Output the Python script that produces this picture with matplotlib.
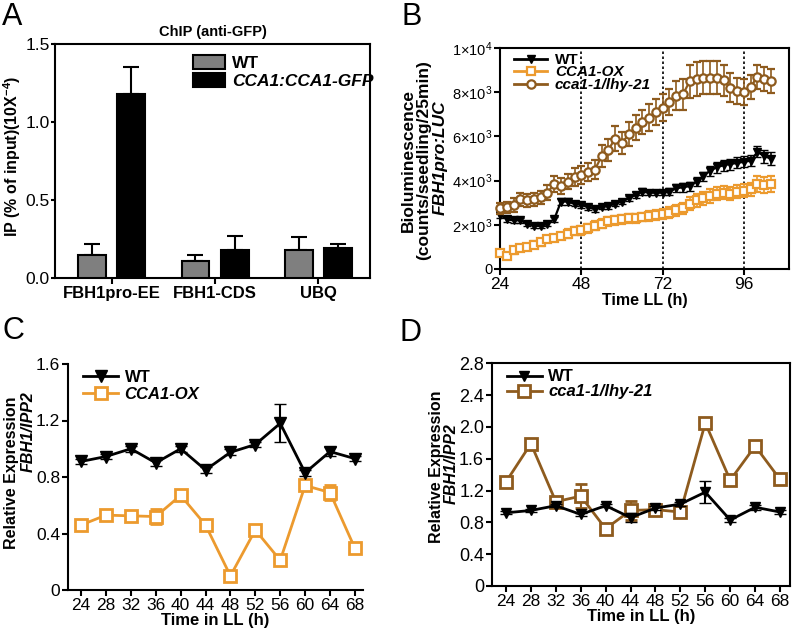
import matplotlib
matplotlib.use("Agg")
import matplotlib.pyplot as plt
import numpy as np
from matplotlib.patches import Patch
from matplotlib.lines import Line2D

plt.rcParams['font.family'] = ['Liberation Sans', 'DejaVu Sans']
plt.rcParams['mathtext.default'] = 'regular'

# ---------------- Panel A data ----------------
chip_targets = ['FBH1pro-EE', 'FBH1-CDS', 'UBQ']
chip_wt = [0.15, 0.11, 0.18]
chip_wt_err = [0.065, 0.035, 0.08]
chip_gfp = [1.18, 0.18, 0.19]
chip_gfp_err = [0.17, 0.09, 0.03]

# ---------------- Panel B data ----------------
lum_time = list(range(24, 105, 2))
lum_wt = [2.45, 2.25, 2.2, 2.2, 2.05, 1.95, 1.95, 2.05, 2.25, 3.05,
          3.05, 2.95, 2.9, 2.8, 2.7, 2.8, 2.85, 2.95, 3.05, 3.2,
          3.35, 3.5, 3.45, 3.45, 3.45, 3.5, 3.65, 3.7, 3.75, 3.95,
          4.2, 4.45, 4.6, 4.7, 4.75, 4.8, 4.85, 4.9, 5.3, 5.1,
          5.0]
lum_wt_err = [0.15, 0.12, 0.12, 0.12, 0.1, 0.1, 0.1, 0.1, 0.12, 0.15,
              0.15, 0.12, 0.12, 0.12, 0.1, 0.1, 0.12, 0.12, 0.12, 0.12,
              0.12, 0.15, 0.12, 0.12, 0.12, 0.15, 0.18, 0.2, 0.2, 0.2,
              0.2, 0.22, 0.25, 0.25, 0.25, 0.25, 0.25, 0.25, 0.25, 0.3,
              0.3]
lum_ox = [0.72, 0.58, 0.85, 0.95, 1.0, 1.1, 1.2, 1.35, 1.4, 1.5,
          1.6, 1.72, 1.75, 1.85, 1.95, 2.05, 2.15, 2.2, 2.25, 2.3,
          2.3, 2.35, 2.4, 2.45, 2.5, 2.55, 2.65, 2.75, 2.95, 3.1,
          3.2, 3.3, 3.4, 3.45, 3.4, 3.5, 3.55, 3.6, 3.85, 3.8,
          3.85]
lum_ox_err = [0.15, 0.15, 0.15, 0.15, 0.15, 0.15, 0.15, 0.15, 0.15, 0.15,
              0.2, 0.2, 0.2, 0.2, 0.2, 0.2, 0.2, 0.2, 0.2, 0.2,
              0.2, 0.2, 0.22, 0.22, 0.22, 0.25, 0.25, 0.25, 0.3, 0.3,
              0.3, 0.3, 0.3, 0.3, 0.3, 0.3, 0.3, 0.3, 0.35, 0.35,
              0.35]
lum_cca = [2.75, 2.8, 2.9, 3.15, 3.1, 3.15, 3.25, 3.45, 3.85, 3.75,
           3.95, 4.15, 4.25, 4.4, 4.5, 5.1, 5.4, 5.9, 5.7, 6.1,
           6.4, 6.65, 6.85, 7.1, 7.3, 7.55, 7.85, 7.9, 8.5, 8.6,
           8.65, 8.65, 8.65, 8.55, 8.2, 8.05, 8.0, 8.25, 8.7, 8.6,
           8.5]
lum_cca_err = [0.25, 0.25, 0.3, 0.3, 0.3, 0.3, 0.3, 0.35, 0.35, 0.35, 0.35, 0.4,
               0.4, 0.4, 0.45, 0.5, 0.5, 0.55, 0.5, 0.55, 0.55, 0.55, 0.6, 0.6,
               0.6, 0.6, 0.65, 0.7, 0.75, 0.75, 0.75, 0.75, 0.75, 0.7, 0.65, 0.6,
               0.6, 0.55, 0.55, 0.55, 0.55]

# ---------------- Panel C / D data ----------------
qpcr_time = [24, 28, 32, 36, 40, 44, 48, 52, 56, 60, 64, 68]
c_wt = [0.91, 0.945, 1.0, 0.9, 1.0, 0.85, 0.975, 1.03, 1.18, 0.83, 0.98, 0.93]
c_wt_err = [0.02, 0.02, 0.02, 0.02, 0.02, 0.02, 0.02, 0.02, 0.135, 0.02, 0.03, 0.02]
c_ox = [0.46, 0.53, 0.525, 0.52, 0.67, 0.46, 0.10, 0.425, 0.21, 0.74, 0.69, 0.295]
c_ox_err = [0.02, 0.02, 0.02, 0.05, 0.03, 0.02, 0.02, 0.02, 0.02, 0.02, 0.05, 0.02]
d_wt = [0.92, 0.95, 1.01, 0.9, 1.01, 0.86, 0.98, 1.03, 1.18, 0.83, 0.99, 0.93]
d_wt_err = [0.02, 0.02, 0.02, 0.02, 0.02, 0.06, 0.02, 0.02, 0.135, 0.02, 0.03, 0.02]
d_cca = [1.31, 1.79, 1.06, 1.13, 0.72, 0.95, 0.96, 0.93, 2.05, 1.33, 1.76, 1.34]
d_cca_err = [0.03, 0.03, 0.03, 0.15, 0.04, 0.12, 0.03, 0.03, 0.06, 0.03, 0.04, 0.03]

ORANGE = '#EC9A2E'
BROWN = '#8E5B1E'
GREY = '#7F7F7F'

W, H = 796, 633
fig = plt.figure(figsize=(W / 100, H / 100), dpi=100)


def ax_px(l, r, t, b):
    return fig.add_axes([l / W, 1 - b / H, (r - l) / W, (b - t) / H])


def style(ax, box=True):
    for s in ax.spines.values():
        s.set_linewidth(1.5)
    if not box:
        ax.spines['top'].set_visible(False)
        ax.spines['right'].set_visible(False)
    ax.tick_params(direction='out', width=1.5, length=4, pad=1.5)


def vtext(x, y, s, size, italic=False, va='center'):
    fig.text(x / W, 1 - y / H, s, rotation=90, ha='center', va=va, fontsize=size,
             fontweight='bold', fontstyle='italic' if italic else 'normal')


# ================= Panel A =================
axA = ax_px(55, 370, 44, 278)
style(axA)
axA.tick_params(axis='y', length=3, pad=0.8)
xg = np.arange(len(chip_targets))
off, bw = 0.19, 0.27
axA.bar(xg - off, chip_wt, bw, color=GREY, edgecolor='black', linewidth=1.5, zorder=3)
axA.bar(xg + off, chip_gfp, bw, color='black', edgecolor='black', linewidth=1.5, zorder=3)
axA.errorbar(xg - off, chip_wt, yerr=[np.zeros(3), chip_wt_err], fmt='none',
             ecolor='black', elinewidth=1.5, capsize=6, capthick=1.5, zorder=2)
axA.errorbar(xg + off, chip_gfp, yerr=[np.zeros(3), chip_gfp_err], fmt='none',
             ecolor='black', elinewidth=1.5, capsize=6, capthick=1.5, zorder=2)
axA.set_xlim(-0.55, 2.5)
axA.set_ylim(0, 1.5)
axA.set_yticks([0, 0.5, 1.0, 1.5])
axA.set_yticklabels(['0.0', '0.5', '1.0', '1.5'], fontsize=12.5)
axA.set_xticks(xg)
axA.set_xticklabels(chip_targets, fontsize=12, fontweight='bold')
axA.set_title('ChIP (anti-GFP)', fontsize=10.5, fontweight='bold', pad=6)
vtext(12, 156, 'IP (% of input)(10X$^{-4}$)', 11.5)
legA = axA.legend(handles=[Patch(facecolor=GREY, edgecolor='black', linewidth=1.5),
                           Patch(facecolor='black', edgecolor='black', linewidth=1.5)],
                  labels=['WT', 'CCA1:CCA1-GFP'], loc='upper left',
                  bbox_to_anchor=(0.39, 1.02), frameon=False, fontsize=12.5,
                  handlelength=1.8, handleheight=0.9, handletextpad=0.4, labelspacing=0.1)
for i, t in enumerate(legA.get_texts()):
    t.set_fontweight('bold')
    if i == 1:
        t.set_fontstyle('italic')

# ================= Panel B =================
axB = ax_px(500, 789, 48, 269)
style(axB)
for xv in [48, 72, 96]:
    axB.axvline(xv, color='black', linestyle=(0, (1.5, 1.5)), linewidth=1.2, zorder=1)
tb = np.array(lum_time)
axB.errorbar(tb, np.array(lum_ox) * 1000, yerr=np.array(lum_ox_err) * 1000, color=ORANGE,
             marker='s', markersize=6, markerfacecolor='white', markeredgecolor=ORANGE,
             markeredgewidth=1.6, linewidth=1.6, capsize=3, elinewidth=1.2, zorder=3, clip_on=False)
axB.errorbar(tb, np.array(lum_wt) * 1000, yerr=np.array(lum_wt_err) * 1000, color='black',
             marker='v', markersize=6, linewidth=1.6, capsize=3, elinewidth=1.2, zorder=4, clip_on=False)
axB.errorbar(tb, np.array(lum_cca) * 1000, yerr=np.array(lum_cca_err) * 1000, color=BROWN,
             marker='o', markersize=6, markerfacecolor='white', markeredgecolor=BROWN,
             markeredgewidth=1.6, linewidth=1.6, capsize=3, elinewidth=1.2, zorder=5, clip_on=False)
axB.set_xlim(24, 109.3)
axB.set_ylim(0, 10000)
axB.set_xticks([24, 48, 72, 96])
axB.set_xticklabels(['24', '48', '72', '96'], fontsize=12.5)
axB.set_yticks([0, 2000, 4000, 6000, 8000, 10000])
axB.set_yticklabels(['0', '2×10$^{3}$', '4×10$^{3}$', '6×10$^{3}$', '8×10$^{3}$', '1×10$^{4}$'],
                    fontsize=10.5)
axB.set_xlabel('Time LL (h)', fontsize=11.5, fontweight='bold', labelpad=1)
legB = axB.legend(handles=[Line2D([], [], color='black', marker='v', markersize=6, linewidth=2),
                           Line2D([], [], color=ORANGE, marker='s', markersize=6, markerfacecolor='white',
                                  markeredgewidth=1.6, linewidth=2),
                           Line2D([], [], color=BROWN, marker='o', markersize=6, markerfacecolor='white',
                                  markeredgewidth=1.6, linewidth=2)],
                  labels=['WT', 'CCA1-OX', 'cca1-1/lhy-21'], loc='upper left',
                  bbox_to_anchor=(0.0, 1.04), frameon=False, fontsize=11,
                  handlelength=2.2, handleheight=0.6, handletextpad=0.5, labelspacing=-0.1)
for i, t in enumerate(legB.get_texts()):
    t.set_fontweight('bold')
    if i > 0:
        t.set_fontstyle('italic')
vtext(408, 160, 'Bioluminescence', 12.5)
vtext(424, 160, '(counts/seedling/25min)', 12.5)
vtext(440, 158, 'FBH1pro:LUC', 12.5, italic=True)

# ================= Panel C =================
axC = ax_px(68, 363, 364, 590)
style(axC, box=False)
tq = np.array(qpcr_time)
axC.errorbar(tq, c_wt, yerr=c_wt_err, color='black', marker='v', markersize=8, linewidth=2,
             capsize=4, elinewidth=1.5, zorder=4, clip_on=False)
axC.errorbar(tq, c_ox, yerr=c_ox_err, color=ORANGE, marker='s', markersize=8, markerfacecolor='white',
             markeredgecolor=ORANGE, markeredgewidth=2, linewidth=2, capsize=4, elinewidth=1.5,
             zorder=3, clip_on=False)
axC.set_xlim(21.9, 69.3)
axC.set_ylim(0, 1.6)
axC.set_xticks(qpcr_time)
axC.set_xticklabels([str(v) for v in qpcr_time], fontsize=12.5)
axC.set_yticks([0, 0.4, 0.8, 1.2, 1.6])
axC.set_yticklabels(['0', '0.4', '0.8', '1.2', '1.6'], fontsize=12.5)
axC.set_xlabel('Time in LL (h)', fontsize=12, fontweight='bold', labelpad=0)
legC = axC.legend(handles=[Line2D([], [], color='black', marker='v', markersize=8, linewidth=2),
                           Line2D([], [], color=ORANGE, marker='s', markersize=8, markerfacecolor='white',
                                  markeredgewidth=2, linewidth=2)],
                  labels=['WT', 'CCA1-OX'], loc='upper left', bbox_to_anchor=(0.0, 1.04),
                  frameon=False, fontsize=12, handlelength=2.1, handletextpad=0.4, labelspacing=0.1)
for i, t in enumerate(legC.get_texts()):
    t.set_fontweight('bold')
    if i > 0:
        t.set_fontstyle('italic')
vtext(12, 473, 'Relative Expression', 11.5)
vtext(28, 391, 'FBH1/IPP2', 11.5, italic=True, va='top')

# ================= Panel D =================
axD = ax_px(491.7, 790, 363.3, 586)
style(axD)
axD.errorbar(tq, d_wt, yerr=d_wt_err, color='black', marker='v', markersize=7, linewidth=2,
             capsize=4, elinewidth=1.5, zorder=4, clip_on=False)
axD.errorbar(tq, d_cca, yerr=d_cca_err, color=BROWN, marker='s', markersize=8.5, markerfacecolor='white',
             markeredgecolor=BROWN, markeredgewidth=2, linewidth=2, capsize=4, elinewidth=1.5,
             zorder=3, clip_on=False)
axD.set_xlim(21.7, 69.6)
axD.set_ylim(0, 2.8)
axD.set_xticks(qpcr_time)
axD.set_xticklabels([str(v) for v in qpcr_time], fontsize=12.5)
axD.set_yticks([0, 0.4, 0.8, 1.2, 1.6, 2.0, 2.4, 2.8])
axD.set_yticklabels(['0', '0.4', '0.8', '1.2', '1.6', '2.0', '2.4', '2.8'], fontsize=13)
axD.set_xlabel('Time in LL (h)', fontsize=12, fontweight='bold', labelpad=0)
legD = axD.legend(handles=[Line2D([], [], color='black', marker='v', markersize=7, linewidth=2),
                           Line2D([], [], color=BROWN, marker='s', markersize=8.5, markerfacecolor='white',
                                  markeredgewidth=2, linewidth=2)],
                  labels=['WT', 'cca1-1/lhy-21'], loc='upper left', bbox_to_anchor=(0.0, 1.04),
                  frameon=False, fontsize=12, handlelength=2.1, handletextpad=0.4, labelspacing=0.0)
for i, t in enumerate(legD.get_texts()):
    t.set_fontweight('bold')
    if i > 0:
        t.set_fontstyle('italic')
vtext(436, 467, 'Relative Expression', 11.5)
vtext(451, 464, 'FBH1/IPP2', 11.5, italic=True)

# Panel letters
for letter, x, y in [('A', 2, 2), ('B', 402, 2), ('C', 2, 316), ('D', 400, 318)]:
    fig.text(x / W, 1 - y / H, letter, fontsize=22, ha='left', va='top')

fig.savefig('out.png', dpi=100)
